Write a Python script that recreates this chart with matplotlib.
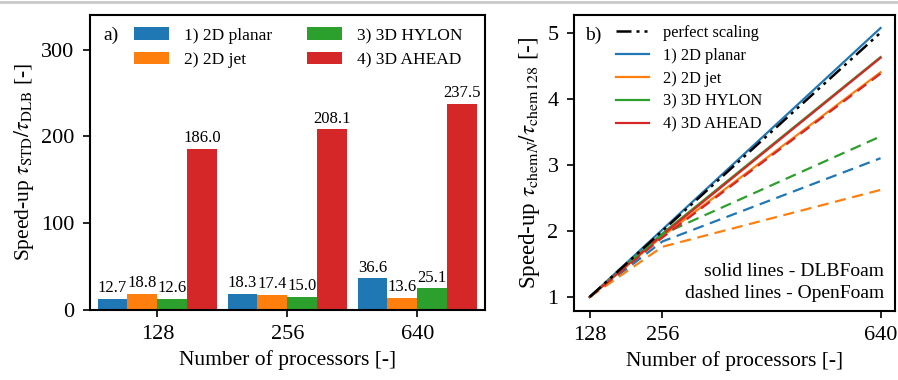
import matplotlib
matplotlib.use("Agg")
import matplotlib.pyplot as plt
import numpy as np
from matplotlib.lines import Line2D

plt.rcParams['font.family'] = ['Liberation Serif', 'DejaVu Serif']
plt.rcParams['mathtext.fontset'] = 'stix'
plt.rcParams['axes.linewidth'] = 1.5

# bar chart data: speed-up of DLBFoam over standard OpenFOAM
procs = ['128', '256', '640']
cases = ['1) 2D planar', '2) 2D jet', '3) 3D HYLON', '4) 3D AHEAD']
speedup = {
    '1) 2D planar': [12.7, 18.3, 36.6],
    '2) 2D jet': [18.8, 17.4, 13.6],
    '3) 3D HYLON': [12.6, 15.0, 25.1],
    '4) 3D AHEAD': [186.0, 208.1, 237.5],
}
colors = ['#1f77b4', '#ff7f0e', '#2ca02c', '#d62728']

# scaling data (relative to 128 processors)
n_procs = [128, 256, 640]
perfect = [1.0, 2.0, 5.0]
dlb = {
    '1) 2D planar': [1.0, 2.02, 5.07],
    '2) 2D jet': [1.0, 1.92, 4.40],
    '3) 3D HYLON': [1.0, 1.96, 4.63],
    '4) 3D AHEAD': [1.0, 1.94, 4.62],
}
openfoam = {
    '1) 2D planar': [1.0, 1.84, 3.10],
    '2) 2D jet': [1.0, 1.76, 2.62],
    '3) 3D HYLON': [1.0, 1.95, 3.43],
    '4) 3D AHEAD': [1.0, 1.90, 4.38],
}

fig = plt.figure(figsize=(8.98, 3.8), dpi=100)
ax1 = fig.add_axes([0.100, 0.184, 0.440, 0.777])
ax2 = fig.add_axes([0.639, 0.182, 0.358, 0.779])

# --- a) bars
x = np.arange(len(procs))
w = 0.23
for i, (c, col) in enumerate(zip(cases, colors)):
    bars = ax1.bar(x + (i - 1.5) * w, speedup[c], w, color=col, label=c)
    ax1.bar_label(bars, labels=[f'{v:.1f}' for v in speedup[c]],
                  padding=2, fontsize=12)
ax1.set_xlim(-0.52, 2.52)
ax1.set_ylim(0, 340)
ax1.set_yticks([0, 100, 200, 300])
ax1.set_xticks(x)
ax1.set_xticklabels(procs)
ax1.tick_params(labelsize=16, width=1.2, length=5, pad=6)
ax1.set_xlabel('Number of processors [-]', fontsize=15.5)
ax1.set_ylabel(r'Speed-up $\tau_{\rm STD}/\tau_{\rm DLB}$ [-]', fontsize=15.5)
ax1.text(0.035, 0.96, 'a)', transform=ax1.transAxes, fontsize=14, va='top')
ax1.legend(ncol=2, loc='upper left', bbox_to_anchor=(0.072, 1.01), frameon=False,
           fontsize=12.5, handlelength=2.0, handleheight=0.75,
           columnspacing=2.0, labelspacing=0.45, handletextpad=0.9)

# --- b) scaling
for c, col in zip(cases, colors):
    ax2.plot(n_procs, dlb[c], color=col, lw=1.6)
for c, col in zip(cases, colors):
    ax2.plot(n_procs, openfoam[c], color=col, lw=1.6, ls=(0, (5, 3)))
ax2.plot(n_procs, perfect, color='black', lw=1.8, ls=(0, (6, 2, 1.2, 2, 1.2, 2)))

ax2.set_xlim(100, 666)
ax2.set_ylim(0.79, 5.27)
ax2.set_xticks(n_procs)
ax2.set_yticks([1, 2, 3, 4, 5])
ax2.tick_params(labelsize=16, width=1.2, length=5, pad=6)
ax2.set_xlabel('Number of processors [-]', fontsize=15.5)
ax2.set_ylabel(r'Speed-up $\tau_{{\rm chem}N}/\tau_{\rm chem128}$ [-]', fontsize=16.5)
ax2.text(0.035, 0.96, 'b)', transform=ax2.transAxes, fontsize=14, va='top')

handles = [Line2D([], [], color='black', lw=1.8, ls=(0, (6, 2, 1.2, 2, 1.2, 2)))]
handles += [Line2D([], [], color=col, lw=1.6) for col in colors]
ax2.legend(handles, ['perfect scaling'] + cases, loc='upper left',
           bbox_to_anchor=(0.085, 1.015), frameon=False, fontsize=11.8,
           handlelength=2.0, labelspacing=0.42, handletextpad=0.9)
ax2.text(0.965, 0.03, 'solid lines - DLBFoam\ndashed lines - OpenFoam',
         transform=ax2.transAxes, ha='right', va='bottom', fontsize=14,
         linespacing=1.35)

# thin grey rule along the top edge
fig.add_artist(Line2D([0, 1], [0.996, 0.996], color='#c8c8c8', lw=2))

fig.savefig('out.png', dpi=100)
